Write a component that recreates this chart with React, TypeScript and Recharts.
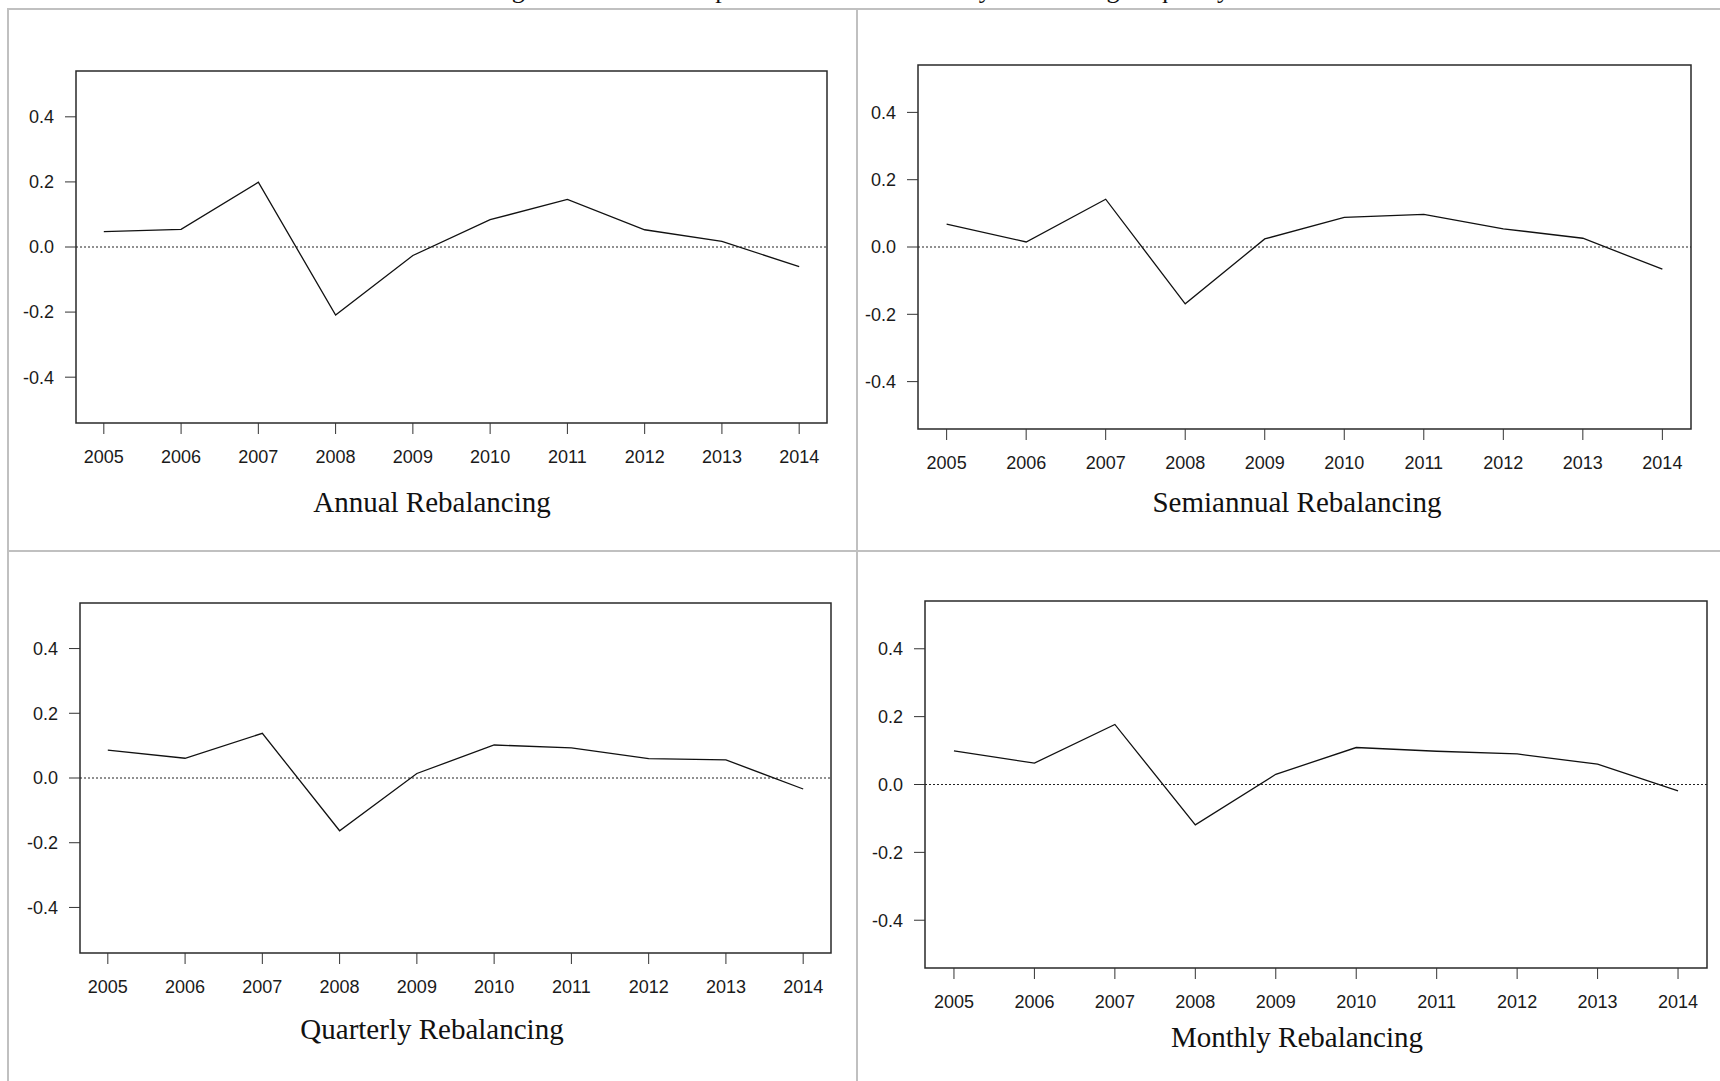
import React from 'react';
import {
  LineChart,
  Line,
  XAxis,
  YAxis,
  ReferenceLine,
  ReferenceArea,
} from 'recharts';

const years = [2005, 2006, 2007, 2008, 2009, 2010, 2011, 2012, 2013, 2014];
const annual = [0.047, 0.054, 0.199, -0.209, -0.026, 0.084, 0.146, 0.053, 0.017, -0.06];
const semiannual = [0.068, 0.015, 0.142, -0.169, 0.024, 0.088, 0.097, 0.054, 0.026, -0.066];
const quarterly = [0.086, 0.061, 0.138, -0.163, 0.014, 0.102, 0.093, 0.06, 0.056, -0.034];
const monthly = [0.099, 0.063, 0.177, -0.119, 0.03, 0.109, 0.098, 0.09, 0.06, -0.019];
const yTicks = [-0.4, -0.2, 0, 0.2, 0.4];

const X_DOMAIN: [number, number] = [2004.64, 2014.36];
const Y_DOMAIN: [number, number] = [-0.5408, 0.5408];

// space around the plot box inside each chart
const PAD_LEFT = 80;
const PAD_TOP = 10;
const PAD_RIGHT = 10;
const PAD_BOTTOM = 60;

const tickStyle = {
  fontFamily: '"Liberation Sans", Arial, sans-serif',
  fontSize: 18,
  fill: '#1a1a1a',
};

interface PanelProps {
  values: number[];
  title: string;
  left: number;
  top: number;
  width: number;
  height: number;
  titleX: number;
  titleBaseline: number;
}

const Panel: React.FC<PanelProps> = ({
  values,
  title,
  left,
  top,
  width,
  height,
  titleX,
  titleBaseline,
}) => {
  const data = years.map((year, i) => ({ year, value: values[i] }));

  return (
    <>
      <div
        style={{
          position: 'absolute',
          left: left - PAD_LEFT,
          top: top - PAD_TOP,
        }}
      >
        <LineChart
          width={width + PAD_LEFT + PAD_RIGHT}
          height={height + PAD_TOP + PAD_BOTTOM}
          data={data}
          margin={{ top: PAD_TOP, right: PAD_RIGHT, left: 0, bottom: 0 }}
        >
          <XAxis
            dataKey="year"
            type="number"
            domain={X_DOMAIN}
            ticks={years}
            allowDataOverflow
            axisLine={false}
            tickLine={{ stroke: '#333' }}
            tickSize={11}
            tickMargin={16}
            height={PAD_BOTTOM}
            tick={tickStyle}
            interval={0}
          />
          <YAxis
            type="number"
            domain={Y_DOMAIN}
            ticks={yTicks}
            allowDataOverflow
            axisLine={false}
            tickLine={{ stroke: '#333' }}
            tickSize={11}
            tickMargin={11}
            width={PAD_LEFT}
            tick={tickStyle}
            tickFormatter={(v: number) => v.toFixed(1)}
            interval={0}
          />
          <ReferenceArea
            x1={X_DOMAIN[0]}
            x2={X_DOMAIN[1]}
            y1={Y_DOMAIN[0]}
            y2={Y_DOMAIN[1]}
            fill="none"
            fillOpacity={0}
            stroke="#2a2a2a"
            strokeWidth={1.5}
          />
          <ReferenceLine y={0} stroke="#222" strokeDasharray="2 2" strokeWidth={1} />
          <Line
            type="linear"
            dataKey="value"
            stroke="#111"
            strokeWidth={1.3}
            dot={false}
            activeDot={false}
            isAnimationActive={false}
          />
        </LineChart>
      </div>
      <div
        style={{
          position: 'absolute',
          left: titleX - 300,
          width: 600,
          top: titleBaseline - 24.3,
          textAlign: 'center',
          fontFamily: '"Liberation Serif", "Times New Roman", serif',
          fontSize: 29,
          lineHeight: '29px',
          color: '#111',
          whiteSpace: 'nowrap',
        }}
      >
        {title}
      </div>
    </>
  );
};

const rule = (style: React.CSSProperties) => (
  <div style={{ position: 'absolute', background: '#c0c0c0', ...style }} />
);

const App: React.FC = () => {
  return (
    <div
      style={{
        position: 'absolute',
        left: 0,
        top: 0,
        width: 1720,
        height: 1081,
        overflow: 'hidden',
        background: '#fff',
      }}
    >
      {/* caption above the table, cut off by the top of the page as in the source */}
      <div
        style={{
          position: 'absolute',
          left: 360,
          width: 1000,
          top: -23,
          textAlign: 'center',
          fontFamily: '"Liberation Serif", "Times New Roman", serif',
          fontSize: 26,
          lineHeight: '26px',
          whiteSpace: 'nowrap',
          color: '#111',
        }}
      >
        Figure 2. Plots of the portfolio excess returns by rebalancing frequency
      </div>

      {rule({ left: 7, top: 8, width: 1713, height: 2 })}
      {rule({ left: 7, top: 8, width: 2, height: 1073 })}
      {rule({ left: 856, top: 8, width: 2, height: 1073 })}
      {rule({ left: 7, top: 550, width: 1713, height: 2 })}

      <Panel
        values={annual}
        title="Annual Rebalancing"
        left={76}
        top={71}
        width={751}
        height={352}
        titleX={432}
        titleBaseline={512}
      />
      <Panel
        values={semiannual}
        title="Semiannual Rebalancing"
        left={918}
        top={65}
        width={773}
        height={364}
        titleX={1297}
        titleBaseline={512}
      />
      <Panel
        values={quarterly}
        title="Quarterly Rebalancing"
        left={80}
        top={603}
        width={751}
        height={350}
        titleX={432}
        titleBaseline={1039}
      />
      <Panel
        values={monthly}
        title="Monthly Rebalancing"
        left={925}
        top={601}
        width={782}
        height={367}
        titleX={1297}
        titleBaseline={1047}
      />
    </div>
  );
};

export default App;
